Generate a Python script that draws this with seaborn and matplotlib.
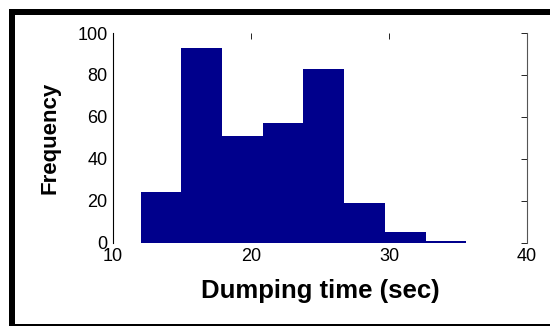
import numpy as np
import matplotlib
matplotlib.use('Agg')
import matplotlib.pyplot as plt
import seaborn as sns
from matplotlib.patches import Rectangle

# histogram
bin_edges = [12.0, 14.95, 17.9, 20.85, 23.8, 26.75, 29.7, 32.65, 35.6]
counts = [24, 93, 51, 57, 83, 19, 5, 1]
x_ticks = [10, 20, 30, 40]
y_ticks = [0, 20, 40, 60, 80, 100]

bar_color = '#00008C'


def plot_histogram(edges, freq, axes):
    centers = [(a + b) / 2 for a, b in zip(edges[:-1], edges[1:])]
    sns.histplot(x=centers, weights=freq, bins=edges, ax=axes,
                 color=bar_color, alpha=1, edgecolor=bar_color, linewidth=0)
    axes.set_xlim(10, 40)
    axes.set_ylim(0, 100)
    axes.set_xticks(x_ticks)
    axes.set_yticks(y_ticks)
    axes.set_xlabel('Dumping time (sec)', fontsize=18.5, fontweight='bold', labelpad=10)
    axes.set_ylabel('Frequency', fontsize=16, fontweight='bold', labelpad=12)


if __name__ == '__main__':
    sns.set_style('white')
    plt.rcParams['font.family'] = ['Liberation Sans', 'DejaVu Sans']
    plt.rcParams['text.color'] = 'black'
    plt.rcParams['axes.labelcolor'] = 'black'

    fig = plt.figure(figsize=(5.5, 3.26), dpi=100)
    ax = fig.add_axes([113 / 550, 1 - 242.7 / 326, (527 - 113) / 550, (242.7 - 33) / 326])
    plot_histogram(bin_edges, counts, ax)

    for side in ['top', 'bottom']:
        ax.spines[side].set_visible(False)
    ax.spines['left'].set_color('black')
    ax.spines['left'].set_linewidth(0.8)
    ax.spines['right'].set_color('#555555')
    ax.spines['right'].set_linewidth(0.8)
    ax.tick_params(direction='in', length=4, width=0.6, top=True, right=True,
                   labelsize=13, colors='black', labelcolor='black', pad=4)
    ax.tick_params(axis='x', which='both', bottom=False)

    # black frame round the figure
    W, H = 550, 326
    fig.add_artist(Rectangle((9 / W, 0), 6 / W, 1 - 9 / H, transform=fig.transFigure,
                             color='black', lw=0))
    fig.add_artist(Rectangle((9 / W, 1 - 15 / H), 1, 6 / H, transform=fig.transFigure,
                             color='black', lw=0))
    fig.add_artist(Rectangle((9 / W, 0), 1, 1.6 / H, transform=fig.transFigure,
                             color='black', lw=0))

    fig.savefig('out.png', dpi=100)
